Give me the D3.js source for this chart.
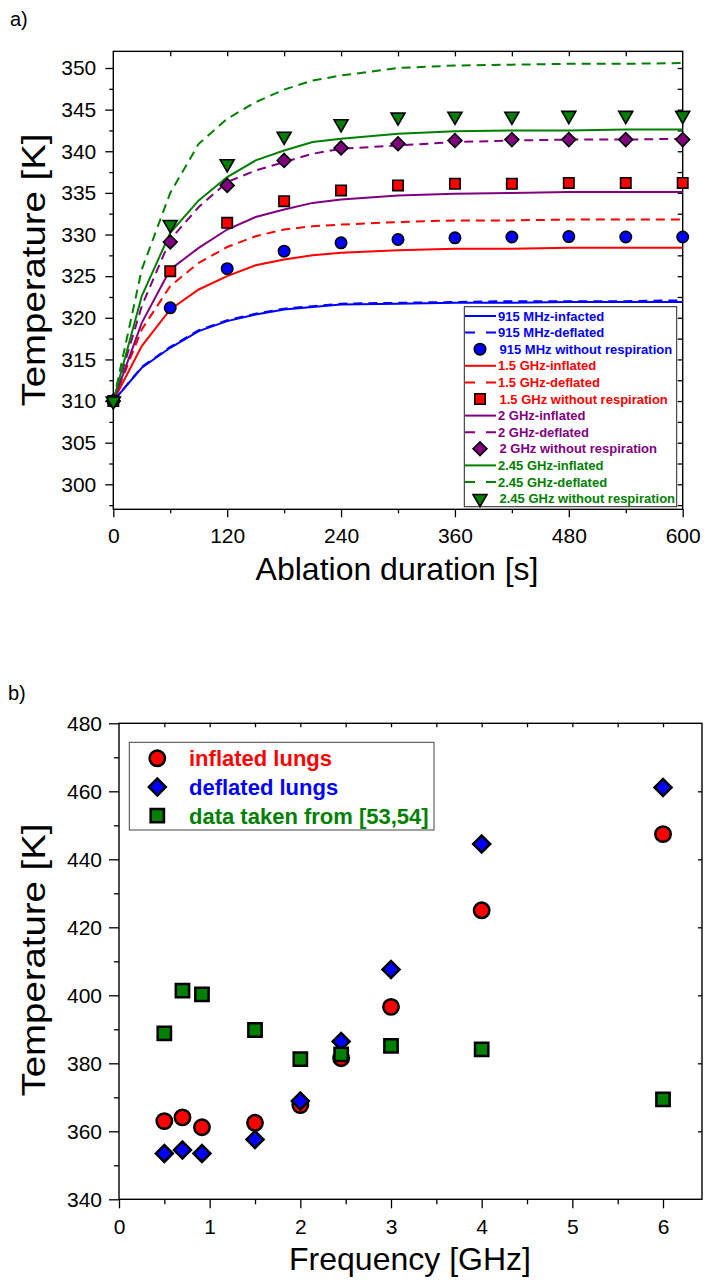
<!DOCTYPE html>
<html>
<head>
<meta charset="utf-8">
<script src="https://cdn.jsdelivr.net/npm/d3@7"></script>
<style>
  body { margin: 0; background: #fff; }
  svg text { font-family: "Liberation Sans", Arial, sans-serif; }
</style>
</head>
<body>
<div id="chart"></div>
<script>
const width = 704;
const height = 1280;

// ---- panel a) temperature vs ablation time ----
const lineTimes = [0, 30, 60, 90, 120, 150, 180, 210, 240, 300, 360, 420, 480, 540, 600];
const markerTimes = [0, 60, 120, 180, 240, 300, 360, 420, 480, 540, 600];

const mhz915Inflated = [310, 314.0, 316.4, 318.4, 319.6, 320.4, 321.0, 321.3, 321.6, 321.7, 321.8, 321.8, 321.9, 321.9, 321.9];
const mhz915Deflated = [310, 314.1, 316.5, 318.5, 319.7, 320.5, 321.1, 321.4, 321.7, 321.8, 321.9, 322.0, 322.0, 322.0, 322.1];
const ghz15Inflated = [310, 316.6, 321.0, 323.4, 325.0, 326.3, 327.0, 327.5, 327.8, 328.1, 328.3, 328.3, 328.4, 328.4, 328.4];
const ghz15Deflated = [310, 318.6, 323.8, 326.6, 328.5, 329.8, 330.6, 331.0, 331.2, 331.5, 331.7, 331.7, 331.8, 331.8, 331.8];
const ghz2Inflated = [310, 319.4, 325.8, 328.4, 330.6, 332.1, 333.0, 333.8, 334.2, 334.7, 334.9, 335.0, 335.1, 335.1, 335.1];
const ghz2Deflated = [310, 321.4, 329.4, 333.3, 336.3, 337.7, 338.7, 339.7, 340.3, 340.7, 341.1, 341.3, 341.4, 341.4, 341.5];
const ghz245Inflated = [310, 322.6, 330.2, 334.1, 336.9, 338.9, 340.1, 341.1, 341.5, 342.1, 342.4, 342.5, 342.5, 342.6, 342.6];
const ghz245Deflated = [310, 325.8, 335.0, 340.9, 343.9, 345.9, 347.4, 348.5, 349.1, 350.0, 350.3, 350.4, 350.5, 350.5, 350.6];

const mhz915NoResp = [310, 321.2, 325.9, 328.0, 329.0, 329.4, 329.6, 329.7, 329.75, 329.7, 329.7];
const ghz15NoResp = [310, 325.6, 331.4, 334.0, 335.3, 335.9, 336.1, 336.1, 336.2, 336.2, 336.2];
const ghz2NoResp = [310, 329.1, 335.9, 338.9, 340.4, 340.9, 341.3, 341.4, 341.4, 341.4, 341.4];
const ghz245NoResp = [310, 331.2, 338.5, 341.8, 343.3, 344.1, 344.2, 344.2, 344.3, 344.3, 344.3];

const legendA = [
  "915 MHz-infacted", "915 MHz-deflated", "915 MHz without respiration",
  "1.5 GHz-inflated", "1.5 GHz-deflated", "1.5 GHz without respiration",
  "2 GHz-inflated", "2 GHz-deflated", "2 GHz without respiration",
  "2.45 GHz-inflated", "2.45 GHz-deflated", "2.45 GHz without respiration"
];

// ---- panel b) temperature vs frequency ----
const frequencies = [0.5, 0.7, 0.915, 1.5, 2, 2.45, 3, 4, 6];
const inflatedLungs = [363.0, 364.1, 361.2, 362.5, 367.7, 381.5, 396.6, 425.0, 447.4];
const deflatedLungs = [353.5, 354.5, 353.5, 357.6, 368.9, 386.4, 407.6, 444.5, 461.1];
const literatureData = [388.8, 401.4, 400.3, 389.8, 381.2, 382.6, 385.1, 384.1, 369.4];
const legendB = ["inflated lungs", "deflated lungs", "data taken from [53,54]"];

const blue = "#0000ff", red = "#ff0000", purple = "#800080", green = "#008000";

const svg = d3.select("#chart")
  .append("svg")
  .attr("width", width)
  .attr("height", height);

// marker shapes (origin style); size = radius / side length
function marker(kind, size) {
  if (kind === "circle") return { d: d3.symbol(d3.symbolCircle, Math.PI * size * size)(), rot: 0 };
  if (kind === "square") return { d: d3.symbol(d3.symbolSquare, size * size)(), rot: 0 };
  if (kind === "diamond") return { d: d3.symbol(d3.symbolSquare, size * size)(), rot: 45 };
  return { d: d3.symbol(d3.symbolTriangle, Math.sqrt(3) / 4 * size * size)(), rot: 180 };
}

function styleAxis(g) {
  g.select(".domain").remove();
  g.selectAll(".tick line").attr("stroke", "#000").attr("stroke-width", 1.3);
  g.selectAll(".tick text").attr("fill", "#000").attr("font-size", 21);
}

// y titles are stretched along their length in the original
function yTitle(x, y, label) {
  svg.append("text")
    .attr("transform", `translate(${x},${y}) scale(1,1.18) rotate(-90)`)
    .attr("text-anchor", "middle").attr("font-size", 32.5)
    .text(label);
}
function xTitle(x, y, label) {
  svg.append("text")
    .attr("x", x).attr("y", y)
    .attr("text-anchor", "middle").attr("font-size", 32)
    .text(label);
}

// =========== panel a ===========
const xA = d3.scaleLinear().domain([0, 600]).range([113.3, 682.7]);
const yA = d3.scaleLinear().domain([297, 352]).range([509.3, 51.35]);

const gA = svg.append("g");

gA.append("g").attr("transform", `translate(0,${yA(297)})`)
  .call(d3.axisBottom(xA).tickValues(d3.range(0, 601, 120)).tickSize(8).tickPadding(11).tickFormat(d3.format("d")))
  .call(styleAxis);
gA.append("g").attr("transform", `translate(0,${yA(297)})`)
  .call(d3.axisBottom(xA).tickValues(d3.range(60, 600, 120)).tickSize(4).tickFormat(""))
  .call(styleAxis);
gA.append("g").attr("transform", `translate(${xA(0)},0)`)
  .call(d3.axisLeft(yA).tickValues(d3.range(300, 351, 5)).tickSize(8).tickPadding(9).tickFormat(d3.format("d")))
  .call(styleAxis);
gA.append("g").attr("transform", `translate(${xA(0)},0)`)
  .call(d3.axisLeft(yA).tickValues(d3.range(297.5, 352, 5)).tickSize(4).tickFormat(""))
  .call(styleAxis);
// mirrored axes, ticks inward
gA.append("g").attr("transform", `translate(0,${yA(352)})`)
  .call(d3.axisBottom(xA).tickValues(d3.range(60, 600, 60)).tickSize(5).tickFormat(""))
  .call(styleAxis);
gA.append("g").attr("transform", `translate(${xA(600)},0)`)
  .call(d3.axisLeft(yA).tickValues(d3.range(297.5, 352, 2.5)).tickSize(5).tickFormat(""))
  .call(styleAxis);

gA.append("rect")
  .attr("x", xA(0)).attr("y", yA(352))
  .attr("width", xA(600) - xA(0)).attr("height", yA(297) - yA(352))
  .attr("fill", "none").attr("stroke", "#000").attr("stroke-width", 1.4);

const seriesLines = [
  { v: mhz915Inflated, c: blue, dash: null },
  { v: mhz915Deflated, c: blue, dash: "9,6" },
  { v: ghz15Inflated, c: red, dash: null },
  { v: ghz15Deflated, c: red, dash: "9,6" },
  { v: ghz2Inflated, c: purple, dash: null },
  { v: ghz2Deflated, c: purple, dash: "9,6" },
  { v: ghz245Inflated, c: green, dash: null },
  { v: ghz245Deflated, c: green, dash: "9,6" }
];

const lineA = d3.line()
  .x((d, i) => xA(lineTimes[i]))
  .y(d => yA(d));

gA.selectAll("path.curve")
  .data(seriesLines)
  .enter()
  .append("path")
  .attr("class", "curve")
  .attr("d", d => lineA(d.v))
  .attr("fill", "none")
  .attr("stroke", d => d.c)
  .attr("stroke-width", 2)
  .attr("stroke-dasharray", d => d.dash);

const seriesMarkers = [
  { v: mhz915NoResp, c: blue, kind: "circle", size: 5.7 },
  { v: ghz15NoResp, c: red, kind: "square", size: 10.4 },
  { v: ghz2NoResp, c: purple, kind: "diamond", size: 9.8 },
  { v: ghz245NoResp, c: green, kind: "triangle", size: 14 }
];

seriesMarkers.forEach(s => {
  const m = marker(s.kind, s.size);
  gA.selectAll(null)
    .data(s.v)
    .enter()
    .append("path")
    .attr("d", m.d)
    .attr("transform", (d, i) => `translate(${xA(markerTimes[i])},${yA(d)}) rotate(${m.rot})`)
    .attr("fill", s.c)
    .attr("stroke", "#000")
    .attr("stroke-width", 1.6);
});

// legend a
const legA = gA.append("g");
legA.append("rect")
  .attr("x", 464.3).attr("y", 306.7).attr("width", 212.4).attr("height", 200)
  .attr("fill", "#fff").attr("stroke", "#222").attr("stroke-width", 1);

const legColors = [blue, blue, blue, red, red, red, purple, purple, purple, green, green, green];

legendA.forEach((label, i) => {
  const y = 316 + i * 16.6;
  const type = i % 3;
  if (type < 2) {
    legA.append("line")
      .attr("x1", 465).attr("x2", 496).attr("y1", y).attr("y2", y)
      .attr("stroke", legColors[i]).attr("stroke-width", 2)
      .attr("stroke-dasharray", type === 1 ? "10,11" : null);
  } else {
    const s = seriesMarkers[Math.floor(i / 3)];
    const m = marker(s.kind, s.size);
    legA.append("path")
      .attr("d", m.d)
      .attr("transform", `translate(480,${y}) rotate(${m.rot})`)
      .attr("fill", legColors[i]).attr("stroke", "#000").attr("stroke-width", 1.6);
  }
  legA.append("text")
    .attr("x", type < 2 ? 498 : 499.5).attr("y", y).attr("dy", "0.36em")
    .attr("font-size", 13).attr("font-weight", "bold")
    .attr("fill", legColors[i])
    .text(label);
});

svg.append("text").attr("x", 10).attr("y", 26).attr("font-size", 20).text("a)");
yTitle(45, 270, "Temperature [K]");
xTitle(397, 580, "Ablation duration [s]");

// =========== panel b ===========
const xB = d3.scaleLinear().domain([0, 6.43]).range([119, 702]);
const yB = d3.scaleLinear().domain([340, 480]).range([1199.3, 723.3]);

const gB = svg.append("g");

gB.append("g").attr("transform", `translate(0,${yB(340)})`)
  .call(d3.axisBottom(xB).tickValues(d3.range(0, 7, 1)).tickSize(9).tickPadding(11).tickFormat(d3.format("d")))
  .call(styleAxis);
gB.append("g").attr("transform", `translate(0,${yB(340)})`)
  .call(d3.axisBottom(xB).tickValues(d3.range(0.5, 6.43, 1)).tickSize(5).tickFormat(""))
  .call(styleAxis);
gB.append("g").attr("transform", `translate(${xB(0)},0)`)
  .call(d3.axisLeft(yB).tickValues(d3.range(340, 481, 20)).tickSize(10).tickPadding(7).tickFormat(d3.format("d")))
  .call(styleAxis);
gB.append("g").attr("transform", `translate(${xB(0)},0)`)
  .call(d3.axisLeft(yB).tickValues(d3.range(350, 480, 20)).tickSize(5).tickFormat(""))
  .call(styleAxis);
gB.append("g").attr("transform", `translate(0,${yB(480)})`)
  .call(d3.axisBottom(xB).tickValues(d3.range(0.5, 6.43, 0.5)).tickSize(4).tickFormat(""))
  .call(styleAxis);
gB.append("g").attr("transform", `translate(${xB(6.43)},0)`)
  .call(d3.axisLeft(yB).tickValues(d3.range(360, 480, 20)).tickSize(4).tickFormat(""))
  .call(styleAxis);

gB.append("rect")
  .attr("x", xB(0)).attr("y", yB(480))
  .attr("width", xB(6.43) - xB(0)).attr("height", yB(340) - yB(480))
  .attr("fill", "none").attr("stroke", "#000").attr("stroke-width", 1.4);

const seriesB = [
  { v: inflatedLungs, c: red, kind: "circle", size: 7.7 },
  { v: deflatedLungs, c: blue, kind: "diamond", size: 12 },
  { v: literatureData, c: green, kind: "square", size: 13.3 }
];

seriesB.forEach(s => {
  const m = marker(s.kind, s.size);
  gB.selectAll(null)
    .data(s.v)
    .enter()
    .append("path")
    .attr("d", m.d)
    .attr("transform", (d, i) => `translate(${xB(frequencies[i])},${yB(d)}) rotate(${m.rot})`)
    .attr("fill", s.c)
    .attr("stroke", "#000")
    .attr("stroke-width", 2.5);
});

const legB = gB.append("g");
legB.append("rect")
  .attr("x", 129.3).attr("y", 742.3).attr("width", 304.7).attr("height", 87.7)
  .attr("fill", "#fff").attr("stroke", "#444").attr("stroke-width", 1);

seriesB.forEach((s, i) => {
  const y = 758.3 + i * 28.7;
  const m = marker(s.kind, s.size);
  legB.append("path")
    .attr("d", m.d)
    .attr("transform", `translate(157.3,${y}) rotate(${m.rot})`)
    .attr("fill", s.c).attr("stroke", "#000").attr("stroke-width", 2.5);
  legB.append("text")
    .attr("x", 189).attr("y", y).attr("dy", "0.36em")
    .attr("font-size", 22).attr("font-weight", "bold")
    .attr("fill", s.c)
    .text(legendB[i]);
});

svg.append("text").attr("x", 8).attr("y", 700).attr("font-size", 20).text("b)");
yTitle(45, 960, "Temperature [K]");
xTitle(410, 1270, "Frequency [GHz]");
</script>
</body>
</html>
